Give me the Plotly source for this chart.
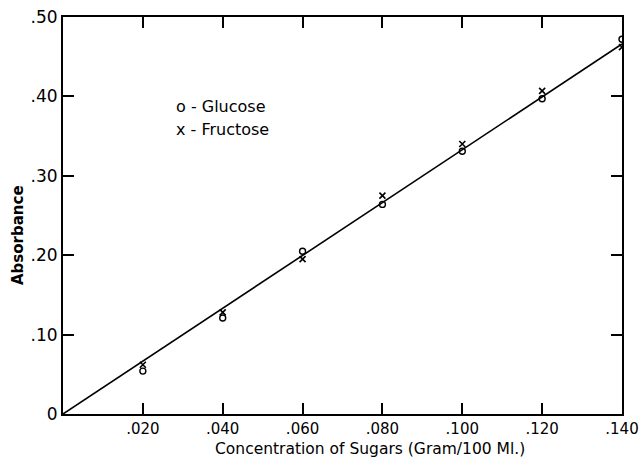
import plotly.graph_objects as go

conc = [0.020, 0.040, 0.060, 0.080, 0.100, 0.120, 0.140]
glucose = [0.054, 0.121, 0.205, 0.264, 0.331, 0.397, 0.472]
fructose = [0.062, 0.128, 0.195, 0.275, 0.340, 0.407, 0.462]
fit_x = [0.0, 0.140]
fit_y = [0.0, 0.466]

x_ticks = [0.02, 0.04, 0.06, 0.08, 0.10, 0.12, 0.14]
x_labels = [".020", ".040", ".060", ".080", ".100", ".120", ".140"]
y_ticks = [0, 0.1, 0.2, 0.3, 0.4, 0.5]
y_labels = ["0", ".10", ".20", ".30", ".40", ".50"]

FONT = "DejaVu Sans"
L, R, T, B, W, H = 63, 19, 17, 44, 641, 458
pw = W - L - R
ph = H - T - B

def px(xp):
    return (xp - L) / pw

def py(yp):
    return (H - B - yp) / ph

fig = go.Figure()
fig.add_trace(go.Scatter(x=fit_x, y=fit_y, mode="lines",
                         line=dict(color="black", width=1.6), showlegend=False))
fig.add_trace(go.Scatter(x=conc, y=glucose, mode="markers", name="Glucose",
                         marker=dict(symbol="circle-open", size=6, color="black",
                                     line=dict(width=1.4)), showlegend=False))
fig.add_trace(go.Scatter(x=conc, y=fructose, mode="markers", name="Fructose",
                         marker=dict(symbol="x-thin-open", size=6, color="black",
                                     line=dict(width=1.6)), showlegend=False))

fig.add_annotation(x=0.0278, y=0.387, xref="x", yref="y", text="o - Glucose",
                   showarrow=False, xanchor="left", yanchor="middle",
                   font=dict(family=FONT, size=16, color="black"))
fig.add_annotation(x=0.0278, y=0.358, xref="x", yref="y", text="x - Fructose",
                   showarrow=False, xanchor="left", yanchor="middle",
                   font=dict(family=FONT, size=16, color="black"))

fig.add_annotation(x=px(370), y=py(449), xref="paper", yref="paper",
                   xanchor="center", yanchor="middle",
                   text="Concentration of Sugars (Gram/100 Ml.)", showarrow=False,
                   font=dict(family=FONT, size=15.5, color="black"))
fig.add_annotation(x=px(18), y=py(235), xref="paper", yref="paper",
                   xanchor="center", yanchor="middle",
                   text="<b>Absorbance</b>", textangle=-90, showarrow=False,
                   font=dict(family=FONT, size=15, color="black"))

fig.update_layout(
    width=W, height=H,
    margin=dict(l=L, r=R, t=T, b=B),
    paper_bgcolor="white", plot_bgcolor="white",
    font=dict(family=FONT, color="black"),
    xaxis=dict(range=[0, 0.140], tickvals=x_ticks, ticktext=x_labels,
               ticks="inside", ticklen=11, tickwidth=1.5, tickcolor="black",
               showline=True, linecolor="black", linewidth=2, mirror="ticks",
               showgrid=False, zeroline=False, automargin=False,
               tickfont=dict(size=15, family=FONT)),
    yaxis=dict(range=[0, 0.50], tickvals=y_ticks, ticktext=y_labels,
               ticks="inside", ticklen=11, tickwidth=1.5, tickcolor="black",
               showline=True, linecolor="black", linewidth=2, mirror="ticks",
               showgrid=False, zeroline=False, automargin=False,
               tickfont=dict(size=17, family=FONT)),
)

fig.write_html("out.html", config={"displayModeBar": False},
               post_script="document.body.style.margin='0';")
